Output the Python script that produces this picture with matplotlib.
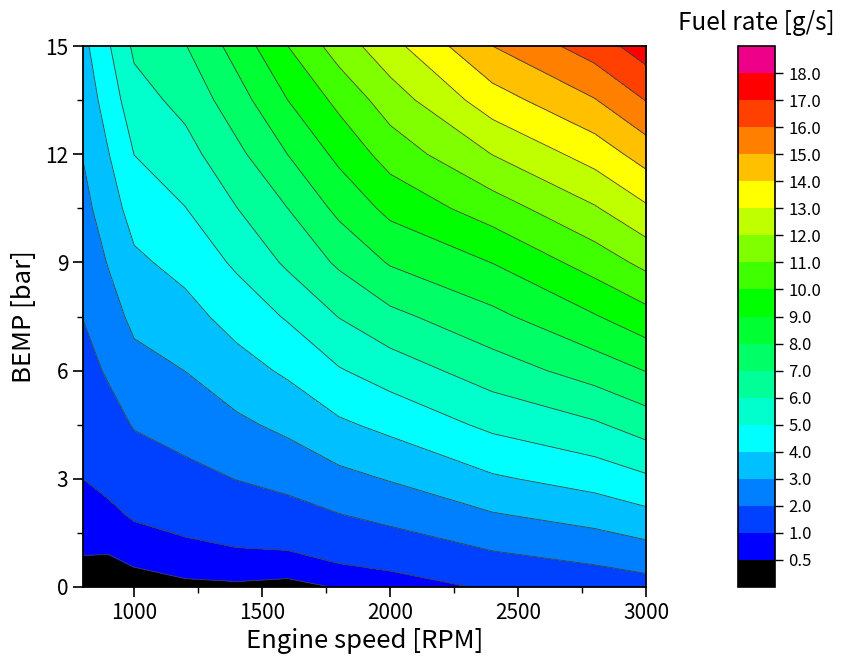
import matplotlib
matplotlib.use("Agg")
import matplotlib.pyplot as plt
import numpy as np

plt.rcParams['font.family'] = ['Noto Sans CJK JP', 'DejaVu Sans']

# engine map grid
rpm = [800, 900, 1000, 1200, 1400, 1600, 1800, 2000, 2400, 2800, 3000]
bemp = [0, 1, 2, 3, 4.5, 6, 7.5, 9, 10.5, 12, 13.5, 15]

# fuel rate [g/s], one list per engine speed (bottom to top in BEMP)
fuel = [
    [0.29, 0.53, 0.76, 1.00, 1.34, 1.68, 2.02, 2.36, 2.70, 3.04, 3.37, 3.72],
    [0.22, 0.53, 0.86, 1.18, 1.65, 2.11, 2.59, 3.06, 3.52, 3.97, 4.44, 4.91],
    [0.28, 0.68, 1.07, 1.47, 2.06, 2.65, 3.24, 3.81, 4.41, 5.01, 5.60, 6.19],
    [0.40, 0.83, 1.27, 1.73, 2.38, 3.01, 3.66, 4.32, 4.98, 5.64, 6.30, 6.96],
    [0.42, 0.95, 1.48, 2.02, 2.81, 3.60, 4.38, 5.16, 5.98, 6.75, 7.56, 8.39],
    [0.35, 0.99, 1.64, 2.29, 3.23, 4.16, 5.10, 6.17, 7.00, 8.01, 9.00, 10.00],
    [0.53, 1.25, 1.97, 2.72, 3.84, 4.92, 6.03, 7.16, 8.25, 9.25, 10.26, 11.46],
    [0.65, 1.44, 2.26, 3.06, 4.26, 5.47, 6.74, 8.09, 9.27, 10.42, 11.50, 12.66],
    [1.10, 2.00, 2.93, 3.87, 5.22, 6.50, 7.75, 9.02, 10.50, 12.02, 13.54, 15.00],
    [1.40, 2.38, 3.38, 4.40, 5.87, 7.44, 8.93, 10.44, 11.91, 13.42, 14.95, 16.50],
    [1.60, 2.67, 3.75, 4.84, 6.46, 8.03, 9.64, 11.27, 12.85, 14.44, 16.03, 17.53],
]

levels = [0, 0.5] + list(range(1, 20))
colors = ['#000000', '#0000ff', '#0040ff', '#0080ff', '#00c0ff', '#00ffff',
          '#00ffcc', '#00ff99', '#00ff66', '#00ff33', '#00ff00', '#40ff00',
          '#80ff00', '#c0ff00', '#ffff00', '#ffc000', '#ff8000', '#ff4000',
          '#ff0000', '#ee0088']

X, Y = np.meshgrid(rpm, bemp)
Z = np.array(fuel).T

fig = plt.figure(figsize=(8.47, 6.72), dpi=100)
ax = fig.add_axes([0.098, 0.1265, 0.6647, 0.805])
cax = fig.add_axes([0.8713, 0.1265, 0.0437, 0.805])

cs = ax.contourf(X, Y, Z, levels=levels, colors=colors)
ax.contour(X, Y, Z, levels=levels[1:-1], colors='#404040', linewidths=0.6)

ax.set_xlim(800, 3000)
ax.set_ylim(0, 15)
ax.set_xticks([1000, 1500, 2000, 2500, 3000])
ax.set_xticks([1250, 1750, 2250, 2750], minor=True)
ax.set_yticks([0, 3, 6, 9, 12, 15])
ax.set_yticks([1.5, 4.5, 7.5, 10.5, 13.5], minor=True)
ax.tick_params(which='major', direction='out', length=7, width=1.2, labelsize=15)
ax.tick_params(which='minor', direction='out', length=4, width=1.0)
for s in ax.spines.values():
    s.set_linewidth(1.3)
ax.set_xlabel('Engine speed [RPM]', fontsize=18.5, labelpad=3)
ax.set_ylabel('BEMP [bar]', fontsize=18.5, labelpad=6)

cb = fig.colorbar(cs, cax=cax, ticks=levels[1:-1], spacing='uniform')
cb.ax.set_yticklabels(['%.1f' % v for v in levels[1:-1]])
cb.ax.tick_params(direction='out', length=6, width=1.0, labelsize=12)
cb.outline.set_linewidth(1.2)
fig.text(0.985, 0.955, 'Fuel rate [g/s]', ha='right', fontsize=17.5)

fig.savefig('out.png', dpi=100)
